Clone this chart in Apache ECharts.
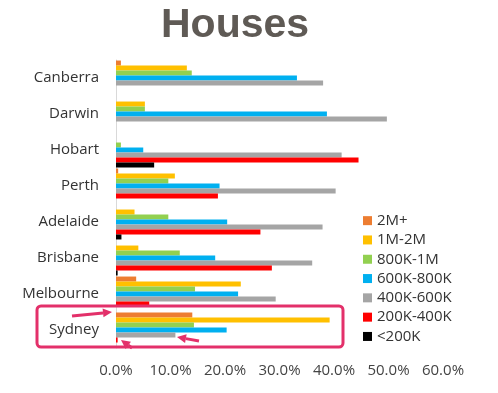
<!DOCTYPE html>
<html>
<head>
<meta charset="utf-8">
<script src="https://cdn.jsdelivr.net/npm/echarts@6/dist/echarts.min.js"></script>
<style>html,body{margin:0;padding:0;background:#fff;}#c{width:498px;height:393px;}</style>
</head>
<body>
<div id="c"></div>
<script>
const categories = ['Canberra', 'Darwin', 'Hobart', 'Perth', 'Adelaide', 'Brisbane', 'Melbourne', 'Sydney'];
const seriesNames = ['2M+', '1M-2M', '800K-1M', '600K-800K', '400K-600K', '200K-400K', '<200K'];
const v2Mplus = [0.9, 0, 0, 0.4, 0, 0, 3.7, 14.0];
const v1Mto2M = [13.0, 5.3, 0, 10.8, 3.4, 4.1, 22.9, 39.2];
const v800Kto1M = [13.9, 5.3, 0.9, 9.6, 9.6, 11.7, 14.5, 14.3];
const v600Kto800K = [33.2, 38.7, 5.0, 19.0, 20.4, 18.2, 22.4, 20.3];
const v400Kto600K = [38.0, 49.7, 41.4, 40.3, 37.9, 36.0, 29.3, 10.9];
const v200Kto400K = [0, 0, 44.5, 18.7, 26.5, 28.6, 6.1, 0.3];
const vUnder200K = [0, 0, 7.0, 0, 1.0, 0.3, 0, 0];
const xTicks = [0, 10, 20, 30, 40, 50, 60];

const seriesValues = [v2Mplus, v1Mto2M, v800Kto1M, v600Kto800K, v400Kto600K, v200Kto400K, vUnder200K];
const colors = ['#ED7D31', '#FFC000', '#92D050', '#00B0F0', '#A5A5A5', '#FF0000', '#000000'];
const pink = '#E3306A';
const font = 'Open Sans';

const chart = echarts.init(document.getElementById('c'), null, {renderer: 'canvas'});

function arrow(x1, y1, x2, y2) {
  const ang = Math.atan2(y2 - y1, x2 - x1);
  const L = 9, W = 4.5;
  const bx = x2 - L * Math.cos(ang), by = y2 - L * Math.sin(ang);
  const px = -Math.sin(ang) * W, py = Math.cos(ang) * W;
  return [
    {type: 'line', shape: {x1: x1, y1: y1, x2: bx, y2: by}, style: {stroke: pink, lineWidth: 3}, z: 100},
    {type: 'polygon', shape: {points: [[x2, y2], [bx + px, by + py], [bx - px, by - py]]}, style: {fill: pink}, z: 100}
  ];
}

chart.setOption({
  animation: false,
  color: colors,
  title: {
    text: 'Houses',
    left: 161,
    top: 5,
    padding: 0,
    textStyle: {fontFamily: 'Liberation Sans', fontWeight: 'bold', fontSize: 41, color: '#5F5A55'}
  },
  legend: {
    orient: 'vertical',
    left: 363,
    top: 211,
    padding: 0,
    itemWidth: 9,
    itemHeight: 9,
    itemGap: 0,
    icon: 'rect',
    data: seriesNames,
    textStyle: {fontFamily: font, fontSize: 15, color: '#333', lineHeight: 19.3}
  },
  grid: {left: 116, right: 55, top: 60, bottom: 45, containLabel: false},
  xAxis: {
    type: 'value',
    min: xTicks[0],
    max: xTicks[xTicks.length - 1],
    interval: 10,
    axisLine: {show: false},
    axisTick: {show: false},
    splitLine: {show: false},
    axisLabel: {
      formatter: v => v.toFixed(1) + '%',
      fontFamily: font, fontSize: 15, color: '#444', margin: 15
    }
  },
  yAxis: {
    type: 'category',
    inverse: true,
    data: categories,
    axisLine: {show: true, lineStyle: {color: '#D9D9D9', width: 1}},
    axisTick: {show: false},
    axisLabel: {fontFamily: font, fontSize: 15, color: '#333', margin: 17}
  },
  series: seriesNames.map((n, i) => ({
    name: n,
    type: 'bar',
    data: seriesValues[i],
    barGap: '0%',
    barCategoryGap: '3%',
    itemStyle: {color: colors[i]}
  })),
  graphic: [
    {type: 'rect', shape: {x: 37, y: 306, width: 306, height: 41, r: 4}, style: {fill: null, stroke: pink, lineWidth: 3}, z: 100},
    ...arrow(72, 316, 112, 312),
    ...arrow(199, 341, 177, 337),
    ...arrow(132, 348, 121, 340)
  ]
});
</script>
</body>
</html>
